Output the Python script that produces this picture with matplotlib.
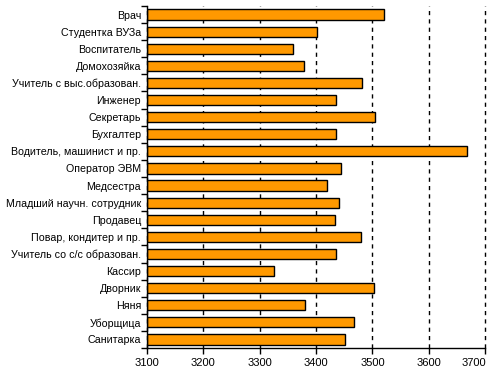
import matplotlib
matplotlib.use("Agg")
import matplotlib.pyplot as plt
import matplotlib.transforms as mtransforms
import numpy as np

categories = ["Врач", "Студентка ВУЗа", "Воспитатель", "Домохозяйка",
              "Учитель с выс.образован.", "Инженер", "Секретарь", "Бухгалтер",
              "Водитель, машинист и пр.", "Оператор ЭВМ", "Медсестра",
              "Младший научн. сотрудник", "Продавец", "Повар, кондитер и пр.",
              "Учитель со с/с образован.", "Кассир", "Дворник", "Няня",
              "Уборщица", "Санитарка"]
values = [3521, 3402, 3360, 3379, 3482, 3436, 3505, 3436, 3667, 3445, 3420,
          3440, 3433, 3479, 3436, 3326, 3502, 3381, 3468, 3452]
xticks = [3100, 3200, 3300, 3400, 3500, 3600, 3700]

plt.rcParams['font.family'] = ['Liberation Sans', 'DejaVu Sans']

fig = plt.figure(figsize=(4.93, 3.75), dpi=100)
ax = fig.add_axes([0.2976, 0.072, 0.6868, 0.912])

n = len(categories)
y = np.arange(n)
ax.barh(y, np.array(values) - xticks[0], left=xticks[0], height=0.6,
        color="#FF9900", edgecolor="black", linewidth=1.0, zorder=3)

ax.set_xlim(xticks[0], xticks[-1])
ax.set_ylim(n - 0.5, -0.5)
ax.set_xticks(xticks)
ax.set_xticklabels([str(t) for t in xticks], fontsize=8)
ax.set_yticks(y)
ax.set_yticklabels(categories, fontsize=7.7)
ax.set_yticks(np.arange(n + 1) - 0.5, minor=True)
ax.tick_params(axis='y', which='major', length=0, pad=4)
ax.tick_params(axis='y', which='minor', length=4, width=1, direction='out')
ax.tick_params(axis='x', which='major', length=4, width=1, direction='out', pad=3)

# shift last x label left to fit inside the figure (as in the reference)
last = ax.get_xticklabels()[-1]
last.set_transform(last.get_transform() +
                   mtransforms.ScaledTranslation(-11 / 100, 0, fig.dpi_scale_trans))

ax.grid(axis='x', color='black', linestyle=(0, (3, 3)), linewidth=1, zorder=0)
for gl in ax.get_xgridlines():
    gl.set_clip_on(False)
for s in ['top', 'right']:
    ax.spines[s].set_visible(False)
for s in ['left', 'bottom']:
    ax.spines[s].set_linewidth(1)
    ax.spines[s].set_zorder(4)

fig.savefig("out.png", dpi=100)
